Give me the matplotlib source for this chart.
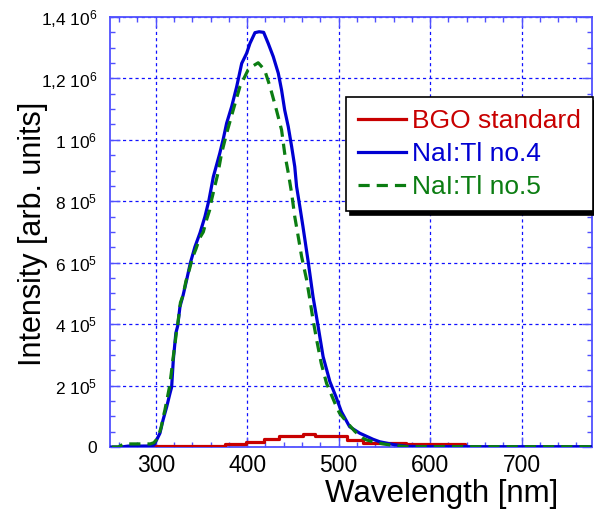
import matplotlib
matplotlib.use("Agg")
import matplotlib.pyplot as plt
from matplotlib.ticker import FixedLocator, MultipleLocator, FixedFormatter

plt.rcParams['font.family'] = ['Liberation Sans', 'DejaVu Sans']
plt.rcParams['mathtext.fontset'] = 'custom'
plt.rcParams['mathtext.rm'] = 'Liberation Sans'
plt.rcParams['mathtext.it'] = 'Liberation Sans'
plt.rcParams['mathtext.bf'] = 'Liberation Sans'

# ---- data (wavelength in nm, intensity in units of 1e3) ----
bgo_edges = [287, 375.7, 399, 418, 435, 461, 474, 509, 527, 574, 638, 780]
bgo_vals = [2, 10, 17, 25, 37, 41, 37, 22, 13, 9, 0, 0]

nai4_wl = [252, 262, 270, 290, 298, 301, 304.6, 308, 312, 315.6, 317.4, 319.2, 322, 324,
           326.5, 330, 333.8, 338, 342.9, 348.4, 353.8, 358.2, 363, 370, 374, 377.5, 383,
           388.5, 394, 399.4, 403, 408.5, 413, 418, 423, 428.5, 434, 437.6, 441, 444.9,
           448.6, 452, 454, 457.6, 461, 466.7, 472, 477.6, 483, 490.4, 497, 503, 512, 523,
           537.7, 545, 560, 575, 600, 700, 780]
nai4_vals = [0, 0, 3, 3, 6, 23, 45, 88, 131, 175, 195, 283, 371, 394,
             457, 495, 544, 601, 652, 697, 750, 804, 880, 956, 1005, 1054, 1108,
             1173, 1249, 1282, 1314, 1349, 1352, 1350, 1314, 1271, 1217, 1162, 1097, 1043,
             978, 913, 848, 782, 717, 603, 489, 392, 294, 213, 164, 115, 66, 45,
             25, 17, 8, 2, 1, 1, 1]

nai5_wl = [252, 259, 265, 294, 298, 301, 304, 306, 308, 310, 312, 315, 317, 319, 321,
           322.5, 324.5, 327, 330, 333, 337, 340, 344, 348, 352, 355.6, 359, 361, 368,
           372, 377.5, 384.7, 392, 401, 406, 412, 419, 425, 432, 437.6, 441, 445, 448.6,
           452, 455.8, 459.5, 465, 468.6, 472, 476, 481, 486.8, 496, 501, 510, 518, 527,
           530.5, 540, 548.7, 560, 574, 600, 700, 780]
nai5_vals = [0, 0, 10, 10, 14, 25, 45, 65, 95, 120, 150, 195, 240, 290, 335,
             370, 410, 470, 495, 540, 580, 615, 645, 680, 700, 740, 772, 804, 891,
             956, 1021, 1097, 1173, 1228, 1240, 1251, 1228, 1173, 1097, 1032, 956, 891, 826,
             750, 685, 620, 544, 479, 414, 348, 272, 207, 142, 110, 77, 50, 28,
             23, 15, 10, 5, 1, 1, 1, 1]

labels = ["BGO standard", "NaI:Tl no.4", "NaI:Tl no.5"]
ytick_vals = [0, 200, 400, 600, 800, 1000, 1200, 1400]
ytick_labels = ["0", r"2 10$^5$", r"4 10$^5$", r"6 10$^5$", r"8 10$^5$",
                r"1 10$^6$", r"1,2 10$^6$", r"1,4 10$^6$"]
xtick_vals = [300, 400, 500, 600, 700]

red = '#c80000'
blue = '#0000d2'
green = '#0b7d12'
axcol = '#5050ff'

fig = plt.figure(figsize=(5.94, 5.15), dpi=100)
ax = fig.add_axes([110/594, 68/515, 482/594, 430/515])

scale = 1e3
ax.plot(bgo_edges, [v*scale for v in bgo_vals], drawstyle='steps-post', color=red, lw=2.3,
        label=labels[0], zorder=3)
ax.plot(nai4_wl, [v*scale for v in nai4_vals], color=blue, lw=2.3, label=labels[1], zorder=4)
ax.plot(nai5_wl, [v*scale for v in nai5_vals], color=green, lw=2.3, ls=(0, (3.5, 2.2)),
        label=labels[2], zorder=5)

ax.set_xlim(250, 777)
ax.set_ylim(0, 1.4e6)

ax.xaxis.set_major_locator(FixedLocator(xtick_vals))
ax.xaxis.set_minor_locator(MultipleLocator(20))
ax.yaxis.set_major_locator(FixedLocator([v*scale for v in ytick_vals]))
ax.yaxis.set_major_formatter(FixedFormatter(ytick_labels))
ax.yaxis.set_minor_locator(MultipleLocator(5e4))

ax.tick_params(which='both', direction='in', top=True, right=True, color=axcol)
ax.tick_params(which='major', length=7, width=1)
ax.tick_params(which='minor', length=3.6, width=1)
ax.tick_params(axis='x', labelsize=16.5, pad=5)
ax.tick_params(axis='y', labelsize=12.5, pad=9)

for s in ax.spines.values():
    s.set_color(axcol)
    s.set_linewidth(1.3)

ax.grid(True, which='major', color='#1010ff', lw=0.9, ls=(0, (2.5, 2.5)))

ax.set_xlabel("Wavelength [nm]", fontsize=22.5)
ax.set_ylabel("Intensity [arb. units]", fontsize=22)
ax.xaxis.set_label_coords(0.689, -0.074)
ax.yaxis.set_label_coords(-0.128, 0.495)

leg = ax.legend(loc='upper left', bbox_to_anchor=(0.49, 0.814), borderaxespad=0,
                fontsize=19, labelcolor='linecolor', handlelength=1.8, handletextpad=0.22,
                borderpad=0.46, labelspacing=0.34, fancybox=False, framealpha=1,
                edgecolor='black',
                shadow={'ox': 3, 'oy': -3, 'facecolor': 'black', 'edgecolor': 'black', 'alpha': 1})
leg.get_frame().set_linewidth(1.2)
leg.set_zorder(10)

fig.savefig("out.png", dpi=100)
